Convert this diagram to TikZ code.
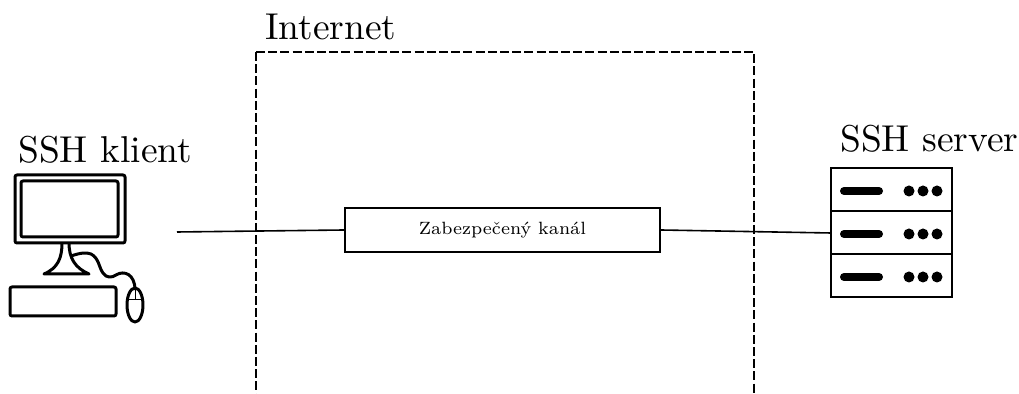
\documentclass[tikz,border=0pt]{standalone}
\usetikzlibrary{positioning}
\tikzset{
  hugelabel/.style={inner sep=0pt, anchor=base west},
  regionline/.style={line width=1.1pt, dash pattern=on 4.5pt off 1.6pt},
  kanalbox/.style={draw, line width=0.9pt, rectangle, minimum width=157.5pt, minimum height=22pt, inner sep=0pt},
  serverrack/.style={draw, line width=1pt, rectangle, minimum width=60.5pt, minimum height=21.5pt, inner sep=0pt, outer sep=0pt},
  pcline/.style={line width=1.5pt, line join=round},
  conn/.style={line width=0.8pt},
}
\newcommand{\biglabel}[1]{\scalebox{1.87}{#1}}
\begin{document}
\begin{tikzpicture}[x=0.5pt, y=-0.5pt]
\useasboundingbox (0,0) rectangle (1019,394);

% === Internet region ===
\draw[regionline] (256,52) -- (256,394);
\draw[regionline] (256,52) -- (754,52) -- (754,394);
\node[hugelabel] (internet) at (265,40) {\biglabel{Internet}};

% === Channel ===
\node[kanalbox, font=\scriptsize] (kanal) at (502.5,230) {\scalebox{1.27}{Zabezpečený kanál}};

% === Client computer ===
\node[hugelabel] (klient) at (18,163) {\biglabel{SSH klient}};
\coordinate (klientout) at (177,232);
\draw[pcline, rounded corners=1pt] (15,175) rectangle (125,243);
\draw[pcline, rounded corners=1pt] (21,181) rectangle (118,237);
% stand
\draw[pcline] (62,243) .. controls (62,258) and (58,268) .. (44,274) -- (89,274)
  .. controls (75,268) and (69,258) .. (69,243);
% cable
\draw[pcline] (71,256) .. controls (80,253) and (86,252) .. (91,254)
  .. controls (99,258) and (99,268) .. (103,273)
  .. controls (106,278) and (112,278) .. (116,275)
  .. controls (124,270) and (135,274) .. (135,290);
% keyboard
\draw[pcline, rounded corners=1pt] (10,287) rectangle (116,316);
% mouse
\draw[pcline] (135,305) ellipse [x radius=8, y radius=17];
\draw[line width=0.5pt] (135,288) -- (135,300) (127,300) -- (143,300);

% === Server ===
\node[hugelabel] (server) at (840,152) {\biglabel{SSH server}};
\foreach \r/\y in {rackA/190, rackB/233, rackC/276} {
  \node[serverrack] (\r) at (891.5,\y) {};
  \draw[line width=4pt, line cap=round] (844,\y+1) -- (879,\y+1);
  \foreach \x in {909,923,937} {\fill (\x,\y+1) circle [radius=5.5];}
}

% === Connectors ===
\draw[conn] (klientout) -- (kanal.west);
\draw[conn] (kanal.east) -- (rackB.west);
\end{tikzpicture}
\end{document}
